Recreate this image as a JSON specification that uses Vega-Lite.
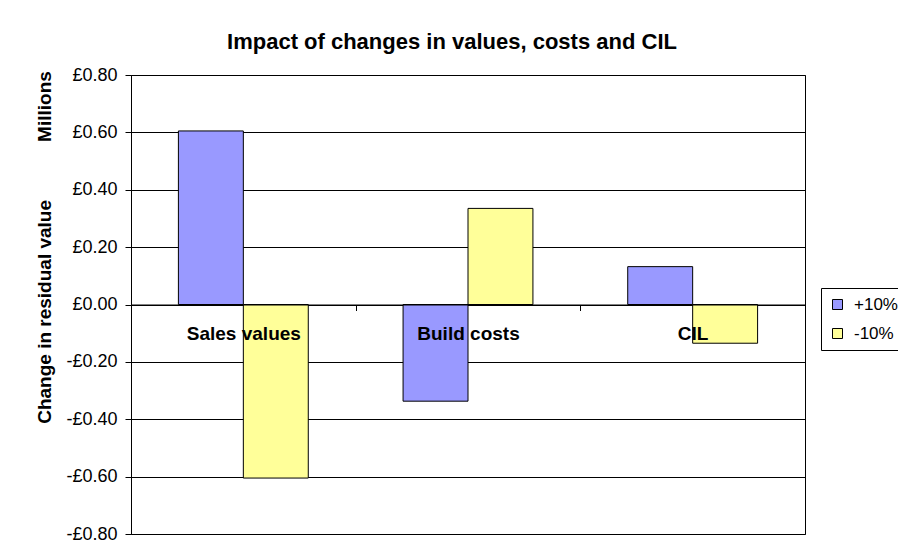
{
  "$schema": "https://vega.github.io/schema/vega-lite/v6.json",
  "width": 674,
  "height": 459,
  "autosize": {"type": "none"},
  "padding": {"left": 131, "top": 75, "right": 93, "bottom": 24},
  "background": "white",
  "title": {
    "text": "Impact of changes in values, costs and CIL",
    "font": "Liberation Sans",
    "fontSize": 22,
    "fontWeight": "bold",
    "color": "black",
    "anchor": "middle",
    "frame": "group",
    "baseline": "alphabetic",
    "dx": -16,
    "offset": -5
  },
  "data": {
    "values": [
      {"category": "Sales values", "change": "+10%", "value": 0.605},
      {"category": "Sales values", "change": "-10%", "value": -0.605},
      {"category": "Build costs", "change": "+10%", "value": -0.337},
      {"category": "Build costs", "change": "-10%", "value": 0.335},
      {"category": "CIL", "change": "+10%", "value": 0.132},
      {"category": "CIL", "change": "-10%", "value": -0.135}
    ]
  },
  "mark": {"type": "bar", "stroke": "black", "strokeWidth": 1},
  "encoding": {
    "x": {
      "field": "category",
      "type": "nominal",
      "sort": ["Sales values", "Build costs", "CIL"],
      "scale": {"paddingInner": 0, "paddingOuter": 0},
      "axis": {
        "orient": "bottom",
        "offset": -229.5,
        "title": null,
        "labelAngle": 0,
        "labelFont": "Liberation Sans",
        "labelFontSize": 19,
        "labelFontWeight": "bold",
        "labelColor": "black",
        "labelPadding": 14,
        "tickBand": "extent",
        "tickSize": 6,
        "tickColor": "black",
        "domainColor": "black",
        "grid": false,
        "zindex": 1
      }
    },
    "xOffset": {
      "field": "change",
      "type": "nominal",
      "sort": ["+10%", "-10%"],
      "scale": {"paddingInner": 0, "paddingOuter": 0.73}
    },
    "y": {
      "field": "value",
      "type": "quantitative",
      "scale": {"domain": [-0.8, 0.8], "nice": false},
      "axis": {
        "values": [-0.8, -0.6, -0.4, -0.2, 0, 0.2, 0.4, 0.6, 0.8],
        "labelExpr": "(datum.value < -0.001 ? '-£' : '£') + format(abs(datum.value), '.2f')",
        "labelFont": "Liberation Sans",
        "labelFontSize": 18,
        "labelColor": "black",
        "labelPadding": 8,
        "tickSize": 6,
        "tickColor": "black",
        "domainColor": "black",
        "grid": true,
        "gridColor": "black",
        "gridWidth": 1,
        "title": "Change in residual value\u00a0\u00a0\u00a0\u00a0\u00a0\u00a0\u00a0\u00a0\u00a0\u00a0\u00a0Millions",
        "titleFont": "Liberation Sans",
        "titleFontSize": 19,
        "titleFontWeight": "bold",
        "titleColor": "black",
        "titleAngle": -90,
        "titleAlign": "center",
        "titleBaseline": "alphabetic",
        "titleX": -81,
        "titleY": 172,
        "zindex": 0
      }
    },
    "color": {
      "field": "change",
      "type": "nominal",
      "sort": ["+10%", "-10%"],
      "scale": {"domain": ["+10%", "-10%"], "range": ["#9999FF", "#FFFF99"]},
      "legend": {
        "title": null,
        "orient": "none",
        "legendX": 690,
        "legendY": 213,
        "symbolType": "square",
        "symbolSize": 100,
        "symbolStrokeColor": "black",
        "symbolStrokeWidth": 1,
        "symbolOpacity": 1,
        "labelFont": "Liberation Sans",
        "labelFontSize": 17,
        "labelColor": "black",
        "labelOffset": 8,
        "rowPadding": 11,
        "padding": 8,
        "strokeColor": "black",
        "fillColor": "white"
      }
    }
  },
  "config": {
    "view": {"stroke": "black", "strokeWidth": 1},
    "font": "Liberation Sans"
  }
}
